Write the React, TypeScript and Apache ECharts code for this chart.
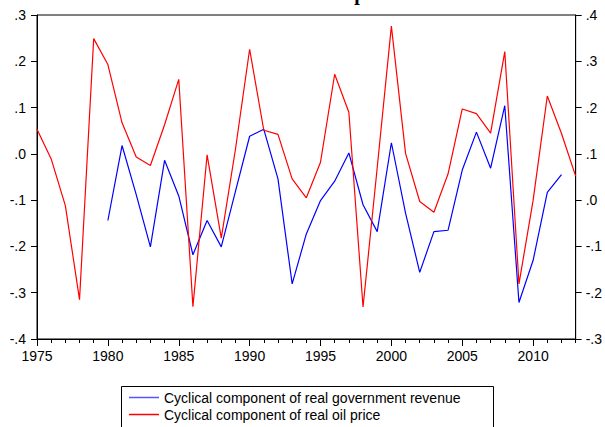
import React, { useEffect, useRef } from "react";
import * as echarts from "echarts";

const revenueYears = [1980, 1981, 1982, 1983, 1984, 1985, 1986, 1987, 1988, 1989, 1990, 1991, 1992, 1993, 1994, 1995, 1996, 1997, 1998, 1999, 2000, 2001, 2002, 2003, 2004, 2005, 2006, 2007, 2008, 2009, 2010, 2011, 2012];
const revenueValues = [-0.144, 0.018, -0.088, -0.201, -0.014, -0.091, -0.218, -0.144, -0.201, -0.081, 0.038, 0.053, -0.054, -0.281, -0.173, -0.101, -0.059, 0.002, -0.11, -0.168, 0.024, -0.128, -0.256, -0.168, -0.165, -0.035, 0.047, -0.031, 0.104, -0.321, -0.23, -0.083, -0.045];

const oilYears = [1975, 1976, 1977, 1978, 1979, 1980, 1981, 1982, 1983, 1984, 1985, 1986, 1987, 1988, 1989, 1990, 1991, 1992, 1993, 1994, 1995, 1996, 1997, 1998, 1999, 2000, 2001, 2002, 2003, 2004, 2005, 2006, 2007, 2008, 2009, 2010, 2011, 2012, 2013];
const oilValues = [0.153, 0.089, -0.012, -0.215, 0.349, 0.293, 0.167, 0.093, 0.075, 0.163, 0.261, -0.23, 0.098, -0.082, 0.11, 0.326, 0.151, 0.142, 0.046, 0.005, 0.082, 0.272, 0.19, -0.231, 0.07, 0.376, 0.101, -0.003, -0.026, 0.057, 0.197, 0.187, 0.145, 0.321, -0.181, 0.0, 0.225, 0.144, 0.052];

const seriesNames = [
  "Cyclical component of real government revenue",
  "Cyclical component of real oil price",
];
const titleText = "Revenue and oil price";

const FONT = "'Liberation Sans', Arial, sans-serif";

const fmt = (v: number) => {
  const s = Number(v).toFixed(1);
  return s.replace(/^(-?)0\./, "$1.");
};

export default function App() {
  const ref = useRef<HTMLDivElement>(null);
  useEffect(() => {
    if (!ref.current) return;
    const chart = echarts.init(ref.current, undefined, { renderer: "svg" });
    chart.setOption({
      animation: false,
      backgroundColor: "#ffffff",
      graphic: [
        {
          type: "text",
          x: 305,
          y: 3,
          style: {
            text: titleText,
            font: "bold 20px 'Liberation Serif', 'Times New Roman', serif",
            fill: "#000",
            align: "center",
            verticalAlign: "bottom",
          },
        },
        {
          type: "rect",
          shape: { x: 121.5, y: 386.5, width: 372, height: 60 },
          style: { fill: "none", stroke: "#000", lineWidth: 1 },
        },
      ],
      grid: {
        left: 37,
        right: 27,
        top: 15,
        bottom: 88,
        show: true,
        borderColor: "#000",
        borderWidth: 1,
        backgroundColor: "transparent",
      },
      legend: {
        orient: "vertical",
        left: 129,
        top: 390,
        padding: 0,
        icon: "rect",
        itemWidth: 30,
        itemHeight: 1.5,
        itemGap: 2,
        textStyle: { fontFamily: FONT, fontSize: 14, color: "#000", lineHeight: 15 },
        data: seriesNames,
      },
      xAxis: [
        {
          type: "value",
          min: 1975,
          max: 2013,
          interval: 5,
          axisLine: { show: true, onZero: false, lineStyle: { color: "#000", width: 1 } },
          axisTick: { show: true, length: 7, lineStyle: { color: "#000" } },
          axisLabel: {
            show: true,
            margin: 10,
            fontFamily: FONT,
            fontSize: 14,
            color: "#000",
            showMaxLabel: false,
            formatter: (v: number) => String(v),
          },
          splitLine: { show: false },
        },
        {
          type: "value",
          position: "bottom",
          min: 1975,
          max: 2013,
          interval: 1,
          axisLine: { show: false, onZero: false },
          axisTick: { show: true, length: 4, lineStyle: { color: "#000" } },
          axisLabel: { show: false },
          splitLine: { show: false },
        },
      ],
      yAxis: [
        {
          type: "value",
          min: -0.4,
          max: 0.3,
          interval: 0.1,
          position: "left",
          axisLine: { show: true, onZero: false, lineStyle: { color: "#000" } },
          axisTick: { show: true, length: 6, lineStyle: { color: "#000" } },
          axisLabel: { margin: 11, fontFamily: FONT, fontSize: 14, color: "#000", formatter: fmt },
          splitLine: { show: false },
        },
        {
          type: "value",
          min: -0.3,
          max: 0.4,
          interval: 0.1,
          position: "right",
          axisLine: { show: true, onZero: false, lineStyle: { color: "#000" } },
          axisTick: { show: true, length: 6, lineStyle: { color: "#000" } },
          axisLabel: { margin: 10, fontFamily: FONT, fontSize: 14, color: "#000", formatter: fmt },
          splitLine: { show: false },
        },
      ],
      series: [
        {
          name: seriesNames[0],
          type: "line",
          xAxisIndex: 0,
          yAxisIndex: 0,
          showSymbol: false,
          symbol: "none",
          lineStyle: { color: "#0000ff", width: 1.2 },
          itemStyle: { color: "#5555ff" },
          data: revenueYears.map((y, i) => [y, revenueValues[i]]),
        },
        {
          name: seriesNames[1],
          type: "line",
          xAxisIndex: 0,
          yAxisIndex: 1,
          showSymbol: false,
          symbol: "none",
          lineStyle: { color: "#ff0000", width: 1.2 },
          itemStyle: { color: "#ff0000" },
          data: oilYears.map((y, i) => [y, oilValues[i]]),
        },
      ],
    });
    return () => chart.dispose();
  }, []);
  return (
    <div
      ref={ref}
      style={{ position: "fixed", left: 0, top: 0, width: 605, height: 427 }}
    />
  );
}
